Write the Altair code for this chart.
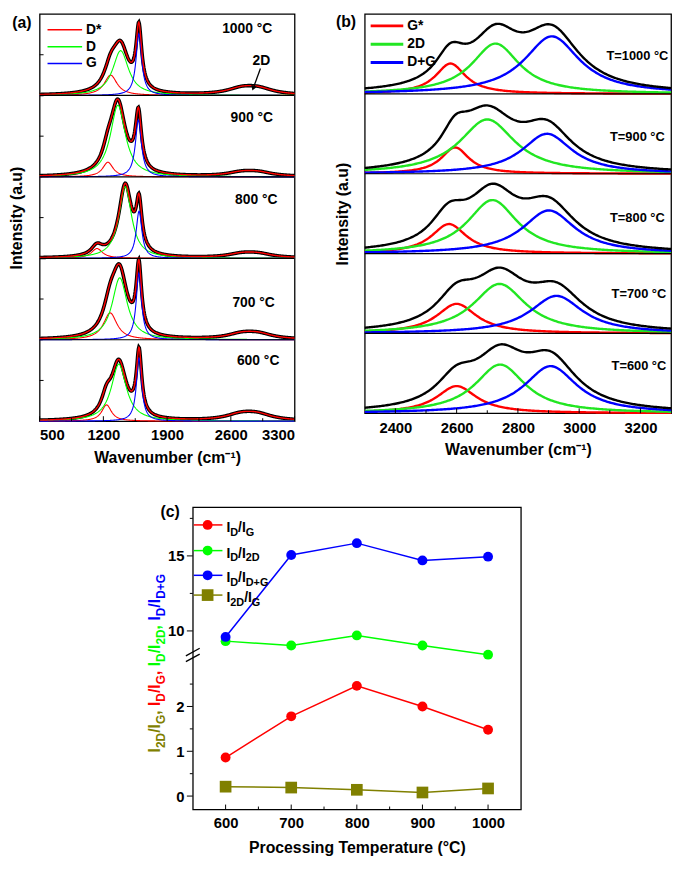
import altair as alt
import numpy as np
import pandas as pd

FONT = "Liberation Sans"
RED, GREEN, BLUE, OLIVE = "#ff0000", "#00ff00", "#0000ff", "#808000"
GREEN_B = "#22e622"

# ---------------- panel (a): peak parameters ----------------
a_temps = ["1000 °C", "900 °C", "800 °C", "700 °C", "600 °C"]      # top -> bottom
a_lab_x = [2780, 2830, 2880, 2850, 2900]
a_lab_y = [0.82, 0.72, 0.72, 0.45, 0.74]
a_dstar_pos = [1280, 1250, 1130, 1275, 1235]
a_dstar_amp = [25, 18, 12, 33, 20]
a_dstar_fwhm = [170, 140, 150, 180, 130]
a_d_pos = [1390, 1360, 1440, 1380, 1370]
a_d_amp = [55, 88, 88, 76, 70]
a_d_fwhm = [210, 200, 170, 200, 200]
a_g_pos = [1590, 1585, 1592, 1590, 1592]
a_g_amp = [76, 70, 58, 82, 78]
a_g_fwhm = [75, 80, 75, 70, 70]
a_2d_pos1 = [2720, 2720, 2720, 2720, 2710]
a_2d_pos2 = [2900, 2900, 2900, 2900, 2890]
a_2d_amp = [7, 4.5, 4.5, 6, 7]
a_2d_fwhm = [400, 380, 380, 380, 400]
a_ticks_major = [500, 1200, 1900, 2600, 3300]
a_ticks_minor = [850, 1550, 2250, 2950]

# ---------------- panel (b) ----------------
b_temps = ["T=1000 °C", "T=900 °C", "T=800 °C", "T=700 °C", "T=600 °C"]
b_lab_x = [3190, 3190, 3190, 3195, 3195]
b_lab_y = [0.47, 0.46, 0.45, 0.49, 0.59]
b_gs_pos = [2580, 2595, 2575, 2600, 2600]
b_gs_amp = [38, 33, 37, 37, 34]
b_gs_fwhm = [120, 110, 140, 160, 160]
b_2d_pos = [2727, 2700, 2717, 2740, 2742]
b_2d_amp = [63, 68, 67, 62, 61]
b_2d_fwhm = [190, 220, 200, 210, 200]
b_dg_pos = [2911, 2895, 2901, 2926, 2907]
b_dg_amp = [72, 50, 54, 47, 59]
b_dg_fwhm = [220, 200, 210, 210, 210]
b_ticks_major = [2400, 2600, 2800, 3000, 3200]
b_ticks_minor = [2500, 2700, 2900, 3100]

# ---------------- panel (c) ----------------
c_temps = [600, 700, 800, 900, 1000]
c_id_ig = [0.86, 1.78, 2.46, 2.00, 1.48]
c_id_i2d = [9.32, 9.03, 9.70, 9.03, 8.42]
c_id_idg = [9.60, 15.06, 15.85, 14.70, 14.95]
c_i2d_ig = [0.21, 0.19, 0.14, 0.08, 0.17]
c_series = ["ID/IG", "ID/I2D", "ID/ID+G", "I2D/IG"]
c_colors = [RED, GREEN, BLUE, OLIVE]
c_major_vals = [0, 1, 2, 10, 15]
c_minor_vals = [0.5, 1.5, 2.5, 12.5, 17.5]

WA, HA = 258, 412
WB, HB = 310, 404
WC, HC = 332, 306

dummy = pd.DataFrame({"k": [0]})


def lor(x, c, a, w):
    return a / (1.0 + ((x - c) / (w / 2.0)) ** 2)


def txt(s, x, y, size, color="black", align="left", baseline="alphabetic", angle=0):
    kw = dict(text=s, align=align, baseline=baseline, font=FONT, fontSize=size,
              fontWeight="bold", color=color)
    if angle:
        kw["angle"] = angle
    return alt.Chart(dummy).mark_text(**kw).encode(x=alt.value(x), y=alt.value(y))


def hline(x1, x2, y, color, width):
    return alt.Chart(dummy).mark_rule(color=color, strokeWidth=width).encode(
        x=alt.value(x1), x2=alt.value(x2), y=alt.value(y))


W_EM = {"I": 278, "D": 722, "G": 778, "2": 556, "/": 278, ",": 278, " ": 278, "+": 584}


def seg_w(s, fs):
    return sum(W_EM[ch] for ch in s) * fs / 1000.0


def rich_text(segs, x0, y0, fs, fss, dsub, color, rotate=False):
    layers, pos = [], 0.0
    for s, sub in segs:
        size = fss if sub else fs
        off = dsub if sub else 0
        if rotate:
            layers.append(txt(s, x0 + off, y0 - pos, size, color=color, angle=270))
        else:
            layers.append(txt(s, x0 + pos, y0 + off, size, color=color))
        pos += seg_w(s, size)
    return layers, pos


# ======================= panel (a) =======================
xa = np.arange(500, 3301, 5.0)
fit_a, comp_a = [], []
for i in range(5):
    base = 4 - i
    ds = lor(xa, a_dstar_pos[i], a_dstar_amp[i], a_dstar_fwhm[i])
    d = lor(xa, a_d_pos[i], a_d_amp[i], a_d_fwhm[i])
    g = lor(xa, a_g_pos[i], a_g_amp[i], a_g_fwhm[i])
    b2 = lor(xa, a_2d_pos1[i], a_2d_amp[i], a_2d_fwhm[i]) + lor(xa, a_2d_pos2[i], a_2d_amp[i], a_2d_fwhm[i])
    tot = ds + d + g + b2
    fit_a.append(pd.DataFrame({"x": xa, "y": base + tot / 100.0, "p": i}))
    for name, arr in [("D*", ds), ("D", d), ("G", g)]:
        comp_a.append(pd.DataFrame({"x": xa, "y": base + arr / 100.0, "p": i, "c": name}))
fit_a = pd.concat(fit_a, ignore_index=True)
comp_a = pd.concat(comp_a, ignore_index=True)

xs_a = alt.Scale(domain=[500, 3300], nice=False, zero=False)
ys_a = alt.Scale(domain=[0, 5], nice=False, zero=False)
X_a = alt.X("x:Q", scale=xs_a, axis=alt.Axis(values=a_ticks_major, format="d", title="Wavenumber (cm⁻¹)",
                                               labelFontSize=15, titleFontSize=16,
                                               labelPadding=7, titlePadding=7))
Y_a = alt.Y("y:Q", scale=ys_a, axis=alt.Axis(labels=False, title="Intensity (a.u)",
                                               titleFontSize=16, titlePadding=15))

la = []
la.append(alt.Chart(fit_a).mark_line(color="black", strokeWidth=3.6).encode(x=X_a, y=Y_a, detail="p:N"))
for name, col in [("D*", RED), ("D", GREEN), ("G", BLUE)]:
    la.append(alt.Chart(comp_a[comp_a["c"] == name]).mark_line(strokeWidth=1.1, color=col).encode(
        x=X_a, y=Y_a, detail="p:N"))
la.append(alt.Chart(fit_a).mark_line(color=RED, strokeWidth=1.4).encode(x=X_a, y=Y_a, detail="p:N"))
la.append(alt.Chart(pd.DataFrame({"y": [1, 2, 3, 4]})).mark_rule(color="black", strokeWidth=1.2).encode(y=Y_a))
la.append(alt.Chart(pd.DataFrame({"y": [0.5, 1.5, 2.5, 3.5, 4.5]})).mark_rule(color="black").encode(
    y=Y_a, x=alt.value(0), x2=alt.value(4)))
la.append(alt.Chart(pd.DataFrame({"x": a_ticks_major})).mark_rule(color="black").encode(
    x=X_a, y=alt.value(HA), y2=alt.value(HA - 5)))
la.append(alt.Chart(pd.DataFrame({"x": a_ticks_minor})).mark_rule(color="black").encode(
    x=X_a, y=alt.value(HA), y2=alt.value(HA - 3)))
lab_a = pd.DataFrame({"x": a_lab_x, "y": [4 - i + a_lab_y[i] for i in range(5)], "t": a_temps})
la.append(alt.Chart(lab_a).mark_text(font=FONT, fontSize=14, fontWeight="bold", align="center",
                                      baseline="middle").encode(x=X_a, y=Y_a, text="t:N"))
# 2D annotation
la.append(alt.Chart(pd.DataFrame({"x": [2935], "y": [4.42]})).mark_text(
    text="2D", font=FONT, fontSize=14, fontWeight="bold", baseline="middle").encode(x=X_a, y=Y_a))
la.append(alt.Chart(pd.DataFrame({"x": [2925], "y": [4.33], "x2": [2850], "y2": [4.1]})).mark_rule(
    color="black", strokeWidth=1.3).encode(x=X_a, y=Y_a, x2="x2:Q", y2="y2:Q"))
la.append(alt.Chart(pd.DataFrame({"x": [2846], "y": [4.09]})).mark_point(
    shape="triangle-down", filled=True, size=35, angle=20, color="black", opacity=1).encode(x=X_a, y=Y_a))
# legend
for k, (lab, col) in enumerate(zip(["D*", "D", "G"], [RED, GREEN, BLUE])):
    yy = 16 + 17 * k
    la.append(hline(8, 43, yy, col, 1.5))
    la.append(txt(lab, 47, yy, 14, baseline="middle"))
la.append(txt("(a)", -18, 9, 16, align="center", baseline="middle"))
chart_a = alt.layer(*la).properties(width=WA, height=HA)

# ======================= panel (b) =======================
xb = np.arange(2300, 3301, 4.0)
fit_b, comp_b = [], []
for i in range(5):
    base = 4 - i
    gs = lor(xb, b_gs_pos[i], b_gs_amp[i], b_gs_fwhm[i])
    d2 = lor(xb, b_2d_pos[i], b_2d_amp[i], b_2d_fwhm[i])
    dg = lor(xb, b_dg_pos[i], b_dg_amp[i], b_dg_fwhm[i])
    tot = gs + d2 + dg
    fit_b.append(pd.DataFrame({"x": xb, "y": base + tot / 100.0, "p": i}))
    for name, arr in [("G*", gs), ("2D", d2), ("D+G", dg)]:
        comp_b.append(pd.DataFrame({"x": xb, "y": base + arr / 100.0, "p": i, "c": name}))
fit_b = pd.concat(fit_b, ignore_index=True)
comp_b = pd.concat(comp_b, ignore_index=True)

xs_b = alt.Scale(domain=[2300, 3300], nice=False, zero=False)
X_b = alt.X("x:Q", scale=xs_b, axis=alt.Axis(values=b_ticks_major, format="d", title="Wavenumber (cm⁻¹)",
                                               labelFontSize=15, titleFontSize=16,
                                               labelPadding=7, titlePadding=7))
Y_b = alt.Y("y:Q", scale=ys_a, axis=alt.Axis(labels=False, title="Intensity (a.u)",
                                               titleFontSize=16, titlePadding=14))
lb = []
for name, col in [("G*", RED), ("2D", GREEN_B), ("D+G", BLUE)]:
    lb.append(alt.Chart(comp_b[comp_b["c"] == name]).mark_line(strokeWidth=2.4, color=col).encode(
        x=X_b, y=Y_b, detail="p:N"))
lb.append(alt.Chart(fit_b).mark_line(color="black", strokeWidth=2.4).encode(x=X_b, y=Y_b, detail="p:N"))
lb.append(alt.Chart(pd.DataFrame({"y": [1, 2, 3, 4]})).mark_rule(color="black", strokeWidth=1.2).encode(y=Y_b))
lb.append(alt.Chart(pd.DataFrame({"x": b_ticks_major})).mark_rule(color="black").encode(
    x=X_b, y=alt.value(HB), y2=alt.value(HB - 5)))
lb.append(alt.Chart(pd.DataFrame({"x": b_ticks_minor})).mark_rule(color="black").encode(
    x=X_b, y=alt.value(HB), y2=alt.value(HB - 3)))
lab_b = pd.DataFrame({"x": b_lab_x, "y": [4 - i + b_lab_y[i] for i in range(5)], "t": b_temps})
lb.append(alt.Chart(lab_b).mark_text(font=FONT, fontSize=13, fontWeight="bold", align="center",
                                      baseline="middle").encode(x=X_b, y=Y_b, text="t:N"))
for k, (lab, col) in enumerate(zip(["G*", "2D", "D+G"], [RED, GREEN_B, BLUE])):
    yy = 12 + 18.5 * k
    lb.append(hline(6, 39, yy, col, 3))
    lb.append(txt(lab, 43, yy, 14, baseline="middle"))
lb.append(txt("(b)", -19, 8, 16, align="center", baseline="middle"))
chart_b = alt.layer(*lb).properties(width=WB, height=HB)

# ======================= panel (c) =======================
K_UP, LOW_TOP, UP_BOT = 0.335, 3.05, 8.1


def disp(v):
    return v if v < 5 else LOW_TOP + (v - UP_BOT) * K_UP


c_vals = [c_id_ig, c_id_i2d, c_id_idg, c_i2d_ig]
calc = f"datum.v < 5 ? datum.v : {LOW_TOP} + (datum.v - {UP_BOT}) * {K_UP}"

maj_d = [disp(v) for v in c_major_vals]
min_d = [disp(v) for v in c_minor_vals]
label_expr = " : ".join(f"datum.value == {d!r} ? '{v}'" for d, v in zip(maj_d, c_major_vals)) + " : ''"

xs_c = alt.Scale(domain=[550, 1050], nice=False, zero=False)
ys_c = alt.Scale(domain=[-0.3, 6.45], nice=False, zero=False)
X_c = alt.X("T:Q", scale=xs_c, axis=alt.Axis(values=c_temps, format="d", title="Processing Temperature (°C)",
                                               labelFontSize=15, titleFontSize=16,
                                               labelPadding=6, titlePadding=9))
Y_c = alt.Y("d:Q", scale=ys_c, axis=alt.Axis(values=maj_d, labelExpr=label_expr, title=None,
                                               labelFontSize=15, labelPadding=9))

lc = []
c_frames = [pd.DataFrame({"T": c_temps, "v": vals}) for vals in c_vals]
for k in range(4):
    lc.append(alt.Chart(c_frames[k]).transform_calculate(d=calc).mark_line(
        strokeWidth=1.5, color=c_colors[k]).encode(x=X_c, y=Y_c))
for k in range(4):
    ch = alt.Chart(c_frames[k]).transform_calculate(d=calc)
    if k < 3:
        lc.append(ch.mark_circle(size=100, opacity=1, color=c_colors[k]).encode(x=X_c, y=Y_c))
    else:
        lc.append(ch.mark_square(size=140, opacity=1, color=c_colors[k]).encode(x=X_c, y=Y_c))
lc.append(alt.Chart(pd.DataFrame({"T": c_temps})).mark_rule(color="black").encode(
    x=X_c, y=alt.value(HC), y2=alt.value(HC - 5)))
lc.append(alt.Chart(pd.DataFrame({"T": [650, 750, 850, 950]})).mark_rule(color="black").encode(
    x=X_c, y=alt.value(HC), y2=alt.value(HC - 3)))
lc.append(alt.Chart(pd.DataFrame({"d": maj_d})).mark_rule(color="black").encode(
    y=Y_c, x=alt.value(0), x2=alt.value(-6)))
lc.append(alt.Chart(pd.DataFrame({"d": min_d})).mark_rule(color="black").encode(
    y=Y_c, x=alt.value(0), x2=alt.value(-3)))
# axis break marks
lc.append(alt.Chart(pd.DataFrame({"d": [3.0, 3.13], "d2": [3.17, 3.30]})).mark_rule(
    color="black", strokeWidth=1.3).encode(y=Y_c, y2="d2:Q", x=alt.value(-7), x2=alt.value(7)))

# legend (c)
leg_rows = [18, 44, 69, 89]
leg_segs = [
    [("I", 0), ("D", 1), ("/I", 0), ("G", 1)],
    [("I", 0), ("D", 1), ("/I", 0), ("2D", 1)],
    [("I", 0), ("D", 1), ("/I", 0), ("D+G", 1)],
    [("I", 0), ("2D", 1), ("/I", 0), ("G", 1)],
]
for k in range(4):
    yy = leg_rows[k]
    lc.append(hline(1, 30, yy, c_colors[k], 1.5))
    if k < 3:
        lc.append(alt.Chart(dummy).mark_circle(size=100, opacity=1, color=c_colors[k]).encode(
            x=alt.value(15), y=alt.value(yy)))
    else:
        lc.append(alt.Chart(dummy).mark_square(size=140, opacity=1, color=c_colors[k]).encode(
            x=alt.value(15), y=alt.value(yy)))
    layers, _ = rich_text(leg_segs[k], 34, yy + 7, 14, 11, 4, "black")
    lc.extend(layers)

# multicolour y title (reads bottom -> top)
title_parts = [
    (OLIVE, [("I", 0), ("2D", 1), ("/I", 0), ("G", 1), (", ", 0)]),
    (RED, [("I", 0), ("D", 1), ("/I", 0), ("G", 1), (", ", 0)]),
    (GREEN, [("I", 0), ("D", 1), ("/I", 0), ("2D", 1), (", ", 0)]),
    (BLUE, [("I", 0), ("D", 1), ("/I", 0), ("D+G", 1)]),
]
total = sum(seg_w(s, 12 if sub else 16) for _, segs in title_parts for s, sub in segs)
ystart = 158 + total / 2
for col, segs in title_parts:
    layers, adv = rich_text(segs, -33, ystart, 16, 12, 5, col, rotate=True)
    lc.extend(layers)
    ystart -= adv
lc.append(txt("(c)", -23, 5, 16, align="center", baseline="middle"))
chart_c = alt.layer(*lc).properties(width=WC, height=HC)

spacer = alt.Chart(dummy).mark_point(opacity=0).encode(x=alt.value(0), y=alt.value(0)).properties(
    width=108, height=10, view=alt.ViewBackground(strokeOpacity=0))

row1 = alt.hconcat(chart_a, chart_b, spacing=32)
row2 = alt.hconcat(spacer, chart_c, spacing=0)
chart = alt.vconcat(row1, row2, spacing=37, padding=0).configure_view(
    stroke="black", strokeWidth=1.3
).configure_axis(
    grid=False, domain=False, ticks=False, labelFont=FONT, titleFont=FONT,
    labelFontWeight="bold", titleFontWeight="bold", labelColor="black", titleColor="black"
)

chart.save("out.html", embed_options={"renderer": "svg", "actions": False})
